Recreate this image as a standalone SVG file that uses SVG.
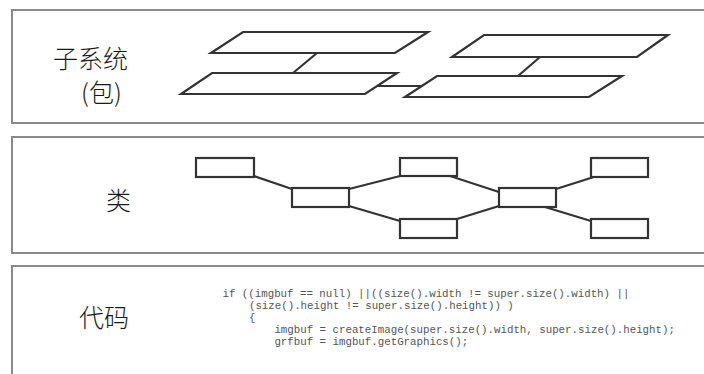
<svg xmlns="http://www.w3.org/2000/svg" width="704" height="374" viewBox="0 0 704 374">
  <style>
    .panel { fill: #ffffff; stroke: #8a8a8a; stroke-width: 2; }
    .shape { fill: #ffffff; stroke: #333333; stroke-width: 2.2; stroke-linejoin: miter; }
    .link { fill: none; stroke: #333333; stroke-width: 2.2; }
    .label { font-family: "Noto Sans CJK SC", "Noto Sans CJK JP", sans-serif; font-weight: 300; font-size: 25px; fill: #1a1a1a; }
    .code { font-family: "Liberation Mono", "DejaVu Sans Mono", monospace; font-size: 11px; fill: #555555; }
  </style>
  <rect width="704" height="374" fill="#ffffff"/>

  <!-- panels (open on the right) -->
  <g id="panels">
    <rect class="panel" x="12" y="10" width="700" height="113"/>
    <rect class="panel" x="12" y="137" width="700" height="116"/>
    <rect class="panel" x="12" y="266" width="700" height="120"/>
  </g>

  <!-- row labels -->
  <g id="labels">
    <text class="label" x="53" y="68">子系统</text>
    <text class="label" x="81" y="102">(包)</text>
    <text class="label" x="106" y="210">类</text>
    <text class="label" x="79" y="327">代码</text>
  </g>

  <!-- subsystem packages -->
  <g id="connectors-packages">
    <line class="link" x1="317" y1="53" x2="293" y2="73"/>
    <line class="link" x1="540" y1="57" x2="518" y2="76"/>
    <line class="link" x1="378" y1="86" x2="422" y2="86"/>
  </g>
  <g id="pkg-a"><polygon class="shape" points="243,32 428,32 395,53 211,53"/></g>
  <g id="pkg-b"><polygon class="shape" points="212,73 397,73 365,94 181,94"/></g>
  <g id="pkg-c"><polygon class="shape" points="484,35 668,35 637,57 452,57"/></g>
  <g id="pkg-d"><polygon class="shape" points="437,76 622,76 589,97 405,97"/></g>

  <!-- classes -->
  <g id="connectors-classes">
    <line class="link" x1="254" y1="176" x2="292" y2="189"/>
    <line class="link" x1="349" y1="189" x2="400" y2="176"/>
    <line class="link" x1="349" y1="206" x2="400" y2="221"/>
    <line class="link" x1="450" y1="176" x2="499" y2="192"/>
    <line class="link" x1="457" y1="219" x2="499" y2="206"/>
    <line class="link" x1="556" y1="189" x2="597" y2="176"/>
    <line class="link" x1="545" y1="207" x2="591" y2="221"/>
  </g>
  <g id="class-1"><rect class="shape" x="196" y="158" width="58" height="19"/></g>
  <g id="class-2"><rect class="shape" x="292" y="188" width="57" height="19"/></g>
  <g id="class-3"><rect class="shape" x="400" y="158" width="57" height="18"/></g>
  <g id="class-4"><rect class="shape" x="400" y="219" width="57" height="19"/></g>
  <g id="class-5"><rect class="shape" x="499" y="188" width="57" height="19"/></g>
  <g id="class-6"><rect class="shape" x="591" y="158" width="57" height="19"/></g>
  <g id="class-7"><rect class="shape" x="591" y="219" width="57" height="19"/></g>

  <!-- source listing -->
  <g id="code" transform="scale(0.98,1)">
    <text class="code" x="227" y="297">if ((imgbuf == null) ||((size().width != super.size().width) ||</text>
    <text class="code" x="254" y="309">(size().height != super.size().height)) )</text>
    <text class="code" x="254" y="321">{</text>
    <text class="code" x="280" y="333">imgbuf = createImage(super.size().width, super.size().height);</text>
    <text class="code" x="280" y="345">grfbuf = imgbuf.getGraphics();</text>
  </g>
</svg>
